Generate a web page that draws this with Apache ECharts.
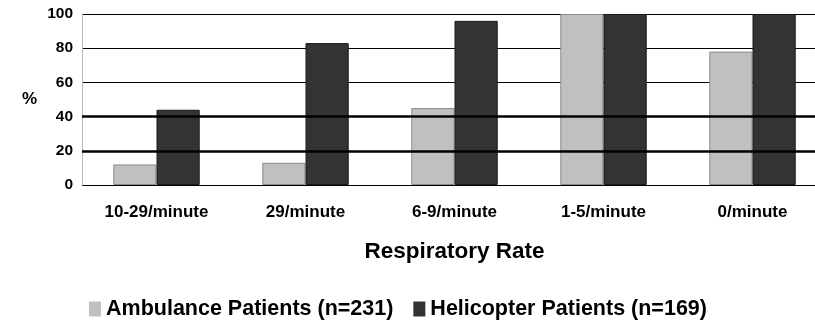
<!DOCTYPE html>
<html>
<head>
<meta charset="utf-8">
<script src="https://cdn.jsdelivr.net/npm/echarts@6/dist/echarts.min.js"></script>
<style>
  html, body { margin: 0; padding: 0; background: #fff; }
  #chart { width: 815px; height: 322px; }
</style>
</head>
<body>
<div id="chart"></div>
<script>
// Respiratory rate categories and percentages per patient group
const categories = ['10-29/minute', '29/minute', '6-9/minute', '1-5/minute', '0/minute'];
const ambulance = [12, 13, 45, 100, 78];
const helicopter = [44, 83, 96, 100, 100];
const seriesNames = ['Ambulance Patients (n=231)', 'Helicopter Patients (n=169)'];
const yTicks = [0, 20, 40, 60, 80, 100];
const heavyLines = [20, 40];

const FONT = "'Liberation Sans', Arial, sans-serif";
const chart = echarts.init(document.getElementById('chart'), null, { renderer: 'canvas' });

chart.setOption({
  animation: false,
  backgroundColor: '#ffffff',
  textStyle: { fontFamily: FONT, color: '#000' },
  grid: { left: 82, top: 14, width: 745, bottom: 137, containLabel: false, outerBoundsMode: 'none' },
  legend: {
    data: seriesNames,
    left: 84,
    top: 293,
    icon: 'rect',
    itemWidth: 12,
    itemHeight: 15,
    itemGap: 20,
    itemStyle: { borderWidth: 0 },
    textStyle: { fontFamily: FONT, fontWeight: 'bold', fontSize: 21.5, color: '#000' }
  },
  xAxis: {
    type: 'category',
    data: categories,
    name: 'Respiratory Rate',
    nameLocation: 'middle',
    nameGap: 55,
    nameTextStyle: { fontFamily: FONT, fontWeight: 'bold', fontSize: 22.5, color: '#000' },
    axisLine: { show: false },
    axisTick: { show: false },
    axisLabel: { fontFamily: FONT, fontWeight: 'bold', fontSize: 17, color: '#000', margin: 19 },
    splitLine: { show: false }
  },
  yAxis: {
    type: 'value',
    min: yTicks[0],
    max: yTicks[yTicks.length - 1],
    interval: 20,
    name: '%',
    nameLocation: 'middle',
    nameRotate: 0,
    nameGap: 45,
    nameTextStyle: { fontFamily: FONT, fontWeight: 'bold', fontSize: 17, color: '#000' },
    axisLine: { show: true, lineStyle: { color: '#b8b8b8', width: 1 } },
    axisTick: { show: false },
    axisLabel: { fontFamily: FONT, fontWeight: 'bold', fontSize: 15.5, color: '#000', margin: 9 },
    splitLine: { show: true, lineStyle: { color: '#000', width: 1 } }
  },
  series: [
    {
      // heavier reference lines, drawn beneath the bars
      type: 'line',
      data: [],
      z: 1,
      silent: true,
      markLine: {
        silent: true,
        symbol: ['none', 'none'],
        label: { show: false },
        lineStyle: { color: '#000', width: 2.5, type: 'solid' },
        data: heavyLines.map(v => ({ yAxis: v }))
      }
    },
    {
      name: seriesNames[0],
      type: 'bar',
      z: 3,
      data: ambulance,
      barWidth: '29%',
      barGap: '0%',
      itemStyle: { color: '#c0c0c0', borderColor: '#8a8a8a', borderWidth: 1 }
    },
    {
      name: seriesNames[1],
      type: 'bar',
      z: 3,
      data: helicopter,
      barWidth: '29%',
      barGap: '0%',
      itemStyle: { color: '#333333', borderColor: '#1a1a1a', borderWidth: 1 }
    }
  ]
});
</script>
</body>
</html>
